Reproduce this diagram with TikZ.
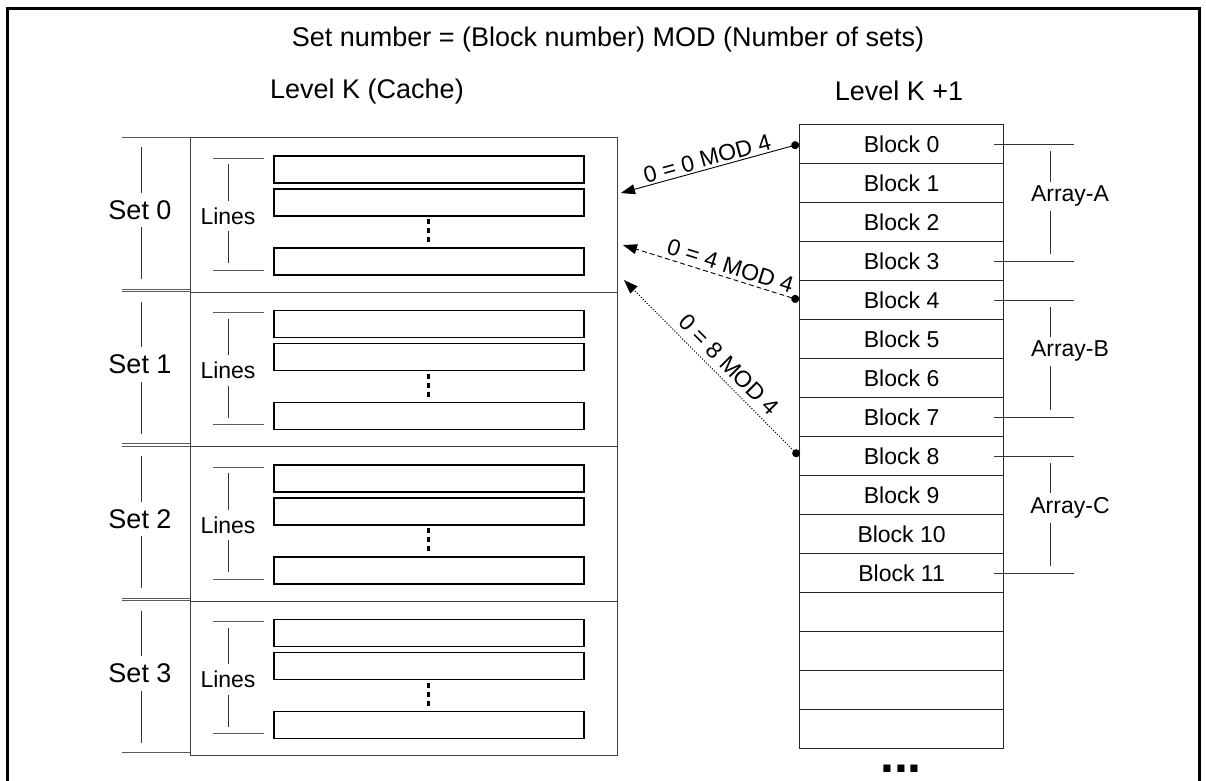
\documentclass[tikz,border=0pt]{standalone}
\usepackage{fontspec}
\setmainfont{Liberation Sans}
\usetikzlibrary{arrows.meta,calc}
\begin{document}
\begin{tikzpicture}[x=1pt,y=-1pt,
  big/.style={font=\fontsize{27}{32}\selectfont},
  small/.style={font=\fontsize{23}{27}\selectfont},
  ext/.style={draw=black!65, line width=1pt},
  dim/.style={draw=black!80, line width=1pt},
  linebox/.style={draw=black, line width=1.8pt, minimum width=310pt, minimum height=27pt, inner sep=0pt, anchor=north west},
  setbox/.style={draw=black!75, line width=1.2pt, minimum width=427pt, minimum height=154.5pt, inner sep=0pt, anchor=north west},
  blockrow/.style={draw=black!85, line width=1.2pt, minimum width=204pt, minimum height=39pt, inner sep=0pt, small, anchor=north west},
  conn/.style={line width=0.9pt, {Circle[length=8pt]}-{Triangle[length=14pt,width=10pt]}},
  vdots/.style={line width=3pt, dash pattern=on 5pt off 4pt},
]
\useasboundingbox (0,0) rectangle (1206,780);
% outer frame
\draw[line width=3pt] (7,800) -- (7,8) -- (1199,8) -- (1199,800);

% titles
\node[big, anchor=base] (title) at (608,46) {Set number = (Block number) MOD (Number of sets)};
\node[big, anchor=base] (lvlk) at (367,98) {Level K (Cache)};
\node[big, anchor=base] (lvlk1) at (899,100) {Level K +1};

% cache sets
\foreach \s/\t in {0/137,1/291.5,2/446,3/600.5}{
  \node[setbox] (set\s) at (190,\t) {};
  \node[linebox] (la\s) at (273,\t+18) {};
  \node[linebox] (lb\s) at (273,\t+51) {};
  \node[linebox] (lc\s) at (273,\t+110) {};
  \draw[vdots] (428,\t+82) -- (428,\t+106);
  % Lines dimension
  \draw[ext] (213,\t+21) -- (264,\t+21);
  \draw[ext] (213,\t+133) -- (264,\t+133);
  \node[small, inner sep=6.5pt] (ln\s) at (228,\t+79) {Lines};
  \draw[dim] (228,\t+27) -- (ln\s.north);
  \draw[dim] (ln\s.south) -- (228,\t+126);
  % Set dimension
  \draw[ext] (122,\t) -- (190,\t);
  \draw[ext] (122,\t+152) -- (190,\t+152);
  \node[big, inner sep=7.5pt] (sl\s) at (140,\t+73) {Set \s};
  \draw[dim] (141,\t+10) -- (sl\s.north -| 141,0);
  \draw[dim] (sl\s.south -| 141,0) -- (141,\t+142);
}

% blocks
\foreach \i in {0,...,15}{
  \node[blockrow] (b\i) at (799,124+39*\i) {\ifnum\i<12 Block \i\fi};
}
\node[font=\fontsize{50}{56}\selectfont\bfseries, anchor=base, inner sep=0pt] (more) at (901,772) {...};

% arrays
\coordinate (vx) at (1050,0);
\foreach \n/\f/\l/\m in {A/0/3/196, B/4/7/351, C/8/11/508}{
  \draw[dim] ($(b\f.east)+(-10,0)$) -- ++(80,0);
  \draw[dim] ($(b\l.east)+(-10,0)$) -- ++(80,0);
  \node[small, inner sep=4pt] (arr\n) at (1070,\m) {Array-\n};
  \draw[dim] ($(b\f.east -| vx)+(0,7)$) -- (arr\n.north -| vx);
  \draw[dim] (arr\n.south -| vx) -- ($(b\l.east -| vx)+(0,-7)$);
}

% connectors
\coordinate (t1) at (621,193);
\coordinate (t2) at (623,245);
\coordinate (t3) at (624,280);
\draw[conn] (b0.west) -- node[small, sloped, above, pos=0.5, inner sep=2pt] (lab1) {0 = 0 MOD 4} (t1);
\draw[conn, dash pattern=on 5pt off 3pt] (b4.west) -- node[small, sloped, above, pos=0.41, inner sep=3.5pt] (lab2) {0 = 4 MOD 4} (t2);
\draw[conn, dash pattern=on 1.2pt off 1.6pt] (b8.west) -- node[small, sloped, above, pos=0.46, inner sep=6pt] (lab3) {0 = 8 MOD 4} (t3);
\end{tikzpicture}
\end{document}
